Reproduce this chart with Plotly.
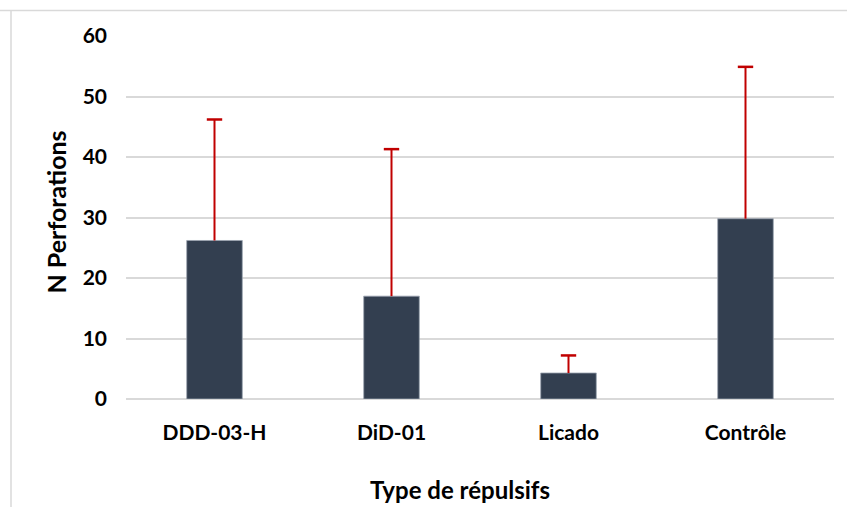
import plotly.graph_objects as go

# Mean number of perforations per repellent type, with the upper error bar
categories = ["DDD-03-H", "DiD-01", "Licado", "Contrôle"]
means = [26.2, 17.0, 4.3, 29.8]
errors = [20.0, 24.3, 2.9, 25.1]
y_ticks = [0, 10, 20, 30, 40, 50, 60]

BAR_COLOR = "#333F50"
ERR_COLOR = "#C00000"
GRID_COLOR = "#D9D9D9"
FONT = "Lato, 'Open Sans', sans-serif"

# Plot area in pixels (used to place titles in paper coordinates)
PLOT_L, PLOT_R, PLOT_T, PLOT_B = 126, 834, 35.5, 399.5
PW, PH = PLOT_R - PLOT_L, PLOT_B - PLOT_T


def px_x(x):
    return (x - PLOT_L) / PW


def px_y(y):
    return (PLOT_B - y) / PH


fig = go.Figure()

fig.add_trace(go.Bar(
    x=categories,
    y=means,
    marker=dict(color=BAR_COLOR, line=dict(color="#9AA3B0", width=0.8)),
    width=0.314,
    hoverinfo="x+y",
))

# Positive-only error bars: a stem from the bar top plus a cap at the end
stem_x, stem_y = [], []
for c, m, e in zip(categories, means, errors):
    stem_x += [c, c, None]
    stem_y += [m, m + e, None]
fig.add_trace(go.Scatter(
    x=stem_x, y=stem_y, mode="lines",
    line=dict(color=ERR_COLOR, width=2),
    hoverinfo="skip",
))
fig.add_trace(go.Scatter(
    x=categories, y=[m + e for m, e in zip(means, errors)], mode="markers",
    marker=dict(symbol="line-ew-open", size=11, color=ERR_COLOR,
                line=dict(color=ERR_COLOR, width=2.5)),
    hoverinfo="skip",
))

title_font = dict(family=FONT, size=24, color="#000000", weight="bold")

fig.update_layout(
    width=847, height=507,
    margin=dict(l=PLOT_L, r=847 - PLOT_R, t=PLOT_T, b=507 - PLOT_B),
    paper_bgcolor="white",
    plot_bgcolor="white",
    showlegend=False,
    font=dict(family=FONT, color="#000000", size=21),
    xaxis=dict(
        showgrid=False, showline=False, zeroline=False,
        ticks="", ticklabelstandoff=19,
        tickfont=dict(family=FONT, size=21, weight="bold"),
    ),
    yaxis=dict(
        range=[0, 60], tickvals=y_ticks,
        showgrid=True, gridcolor=GRID_COLOR, gridwidth=1.5,
        zeroline=True, zerolinecolor=GRID_COLOR, zerolinewidth=1.5,
        showline=False, ticks="", ticklabelstandoff=18,
        tickfont=dict(family=FONT, size=21, weight="bold"),
    ),
    annotations=[
        dict(text="Type de répulsifs", xref="paper", yref="paper",
             x=px_x(460), y=px_y(490), xanchor="center", yanchor="middle",
             showarrow=False, font=title_font),
        dict(text="N Perforations", xref="paper", yref="paper",
             x=px_x(56), y=px_y(212.5), xanchor="center", yanchor="middle",
             textangle=-90, showarrow=False,
             font=dict(title_font, size=25)),
    ],
    shapes=[
        dict(type="line", xref="paper", yref="paper",
             x0=px_x(0), x1=1.05, y0=px_y(10), y1=px_y(10),
             line=dict(color="#D9D9D9", width=1.5)),
        dict(type="line", xref="paper", yref="paper",
             x0=px_x(11), x1=px_x(11), y0=px_y(10), y1=px_y(540),
             line=dict(color="#D9D9D9", width=1.5)),
    ],
)

fig.write_html("out.html")
